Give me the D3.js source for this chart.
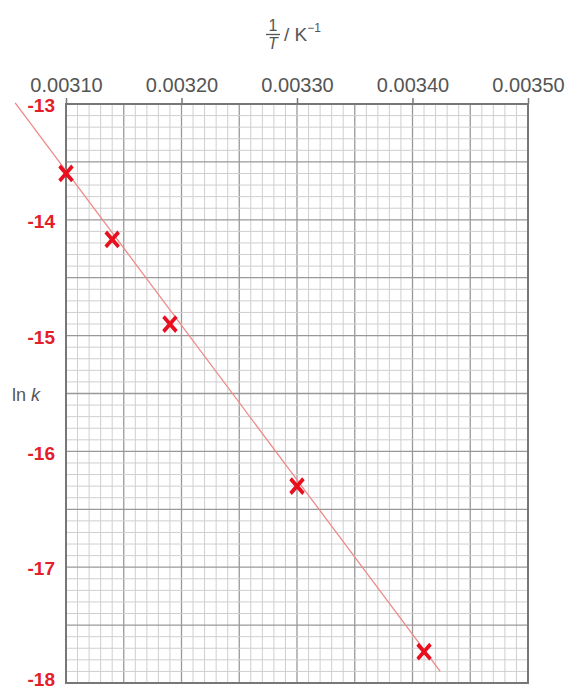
<!DOCTYPE html>
<html>
<head>
<meta charset="utf-8">
<script src="https://cdn.jsdelivr.net/npm/d3@7"></script>
<style>
  body { margin: 0; background: #fff; }
  svg { display: block; font-family: "Liberation Sans", Arial, sans-serif; }
</style>
</head>
<body>
<div id="chart"></div>
<script>
// data
const invT = [0.00310, 0.00314, 0.00319, 0.00330, 0.00341];
const lnK = [-13.6, -14.17, -14.9, -16.3, -17.73];

// best-fit line drawn through the points (end points)
const fitX = [0.003056, 0.003424];
const fitY = [-12.99, -17.90];

const xTicks = [0.00310, 0.00320, 0.00330, 0.00340, 0.00350];
const yTicks = [-13, -14, -15, -16, -17, -18];

const W = 571, H = 689;
const margin = { top: 104, right: 43, bottom: 6, left: 66 };

const svg = d3.select("#chart")
  .append("svg")
  .attr("width", W)
  .attr("height", H);

const x = d3.scaleLinear()
  .domain([0.0031, 0.0035])
  .range([margin.left, W - margin.right]);

const y = d3.scaleLinear()
  .domain([-13, -18])
  .range([margin.top, H - margin.bottom]);

// graph paper grid
const grid = svg.append("g");

grid.selectAll("line.vx")
  .data(x.ticks(40))
  .join("line")
  .attr("x1", d => x(d)).attr("x2", d => x(d))
  .attr("y1", y(-13)).attr("y2", y(-18))
  .attr("stroke", d => Math.round(d * 1e5) % 5 === 0 ? "#999" : "#cfcfcf")
  .attr("stroke-width", d => Math.round(d * 1e5) % 5 === 0 ? 1.3 : 1);

grid.selectAll("line.hy")
  .data(y.ticks(50))
  .join("line")
  .attr("x1", x(0.0031)).attr("x2", x(0.0035))
  .attr("y1", d => y(d)).attr("y2", d => y(d))
  .attr("stroke", d => Math.round(d * 10) % 5 === 0 ? "#999" : "#cfcfcf")
  .attr("stroke-width", d => Math.round(d * 10) % 5 === 0 ? 1.3 : 1);

// frame
svg.append("rect")
  .attr("x", x(0.0031))
  .attr("y", y(-13))
  .attr("width", x(0.0035) - x(0.0031))
  .attr("height", y(-18) - y(-13))
  .attr("fill", "none")
  .attr("stroke", "#777")
  .attr("stroke-width", 2);

// top axis
const xAxis = svg.append("g")
  .attr("transform", `translate(0,${margin.top})`)
  .call(d3.axisTop(x).tickValues(xTicks).tickFormat(d3.format(".5f")).tickSize(6).tickPadding(6));
xAxis.select(".domain").remove();
xAxis.selectAll(".tick line").attr("stroke", "#777").attr("stroke-width", 1.5);
xAxis.selectAll(".tick text")
  .attr("fill", "#555")
  .style("font-size", "20px")
  .style("font-family", "Liberation Sans, Arial, sans-serif");

// left axis (plain hyphen as in the original)
const yAxis = svg.append("g")
  .attr("transform", `translate(${margin.left},0)`)
  .call(d3.axisLeft(y).tickValues(yTicks).tickFormat(d => String(d)).tickSize(0).tickPadding(11));
yAxis.select(".domain").remove();
yAxis.selectAll(".tick text")
  .attr("fill", "#e3202a")
  .attr("dy", d => d === -18 ? "0.15em" : "0.4em")
  .style("font-size", "19px")
  .style("font-weight", "bold")
  .style("font-family", "Liberation Sans, Arial, sans-serif");

// fitted line
svg.append("line")
  .attr("x1", x(fitX[0])).attr("y1", y(fitY[0]))
  .attr("x2", x(fitX[1])).attr("y2", y(fitY[1]))
  .attr("stroke", "#ee8a8a")
  .attr("stroke-width", 1.3);

// crosses
const cross = d3.symbol().type(d3.symbolTimes).size(110);
svg.selectAll("path.pt")
  .data(invT.map((v, i) => ({ x: v, y: lnK[i] })))
  .join("path")
  .attr("d", cross)
  .attr("transform", d => `translate(${x(d.x)},${y(d.y)}) scale(1,1.15)`)
  .attr("fill", "none")
  .attr("stroke", "#e8101e")
  .attr("stroke-width", 3.6);

// y label
const yl = svg.append("text")
  .attr("x", 12)
  .attr("y", 401)
  .attr("fill", "#555")
  .style("font-size", "18px");
yl.append("tspan").text("ln ");
yl.append("tspan").style("font-style", "italic").text("k");

// x label: 1/T / K^-1
const cx = 273;
svg.append("text")
  .attr("x", cx).attr("y", 31)
  .attr("text-anchor", "middle")
  .attr("fill", "#555")
  .style("font-size", "16px")
  .text("1");
svg.append("line")
  .attr("x1", cx - 7).attr("x2", cx + 7)
  .attr("y1", 34.5).attr("y2", 34.5)
  .attr("stroke", "#555").attr("stroke-width", 1.3);
svg.append("text")
  .attr("x", cx).attr("y", 49)
  .attr("text-anchor", "middle")
  .attr("fill", "#555")
  .style("font-size", "16px")
  .style("font-style", "italic")
  .text("T");
const unit = svg.append("text")
  .attr("x", 284).attr("y", 41)
  .attr("fill", "#555")
  .style("font-size", "19px");
unit.append("tspan").text("/ K");
unit.append("tspan")
  .attr("dy", -9)
  .style("font-size", "12px")
  .text("\u22121");
</script>
</body>
</html>
